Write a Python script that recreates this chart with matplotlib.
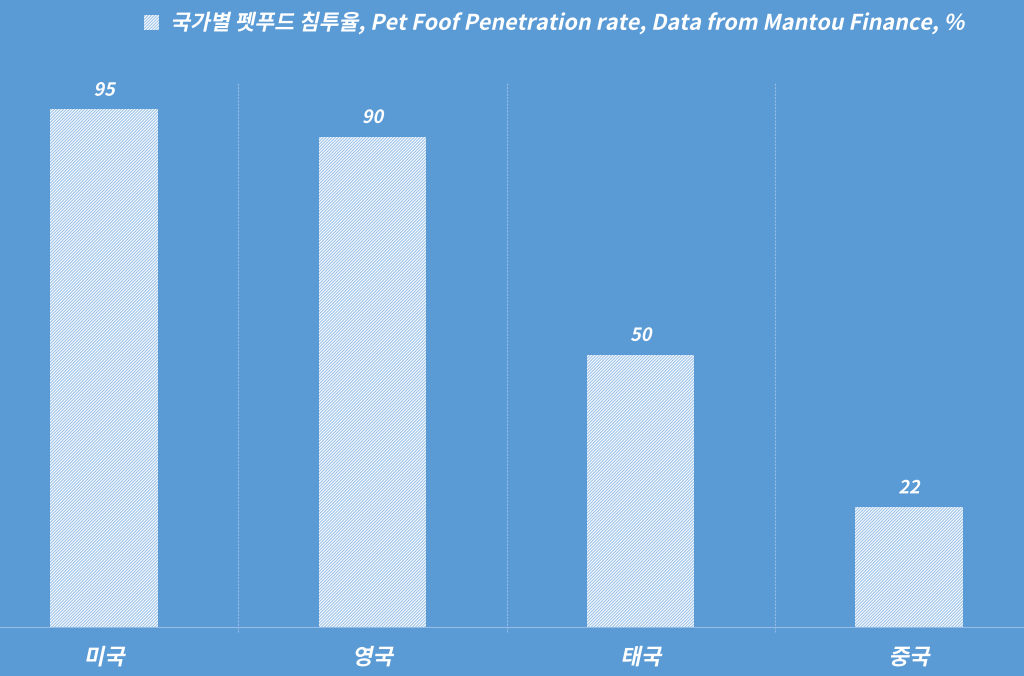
import matplotlib
matplotlib.use("Agg")
import matplotlib.pyplot as plt
from matplotlib import patheffects
from matplotlib.transforms import Affine2D

countries = ["미국", "영국", "태국", "중국"]
penetration = [95, 90, 50, 22]
series_name = "국가별 펫푸드 침투율, Pet Foof Penetration rate, Data from Mantou Finance, %"

BG = "#5B9BD5"
HATCH = "#9DC3EA"
GRID = "#93BCE6"

plt.rcParams["font.family"] = ["Noto Sans CJK KR", "DejaVu Sans"]
plt.rcParams["hatch.linewidth"] = 0.8
plt.rcParams["hatch.color"] = HATCH


class Slant(patheffects.AbstractPathEffect):
    # fake italic: shear the glyph paths
    def __init__(self, deg=12):
        super().__init__()
        self.deg = deg

    def draw_path(self, renderer, gc, tpath, affine, rgbFace=None):
        renderer.draw_path(gc, tpath, Affine2D().skew_deg(self.deg, 0) + affine, rgbFace)


slant = [Slant(12)]

fig = plt.figure(figsize=(10.24, 6.76), dpi=100, facecolor=BG)
ax = fig.add_axes([-0.0293, 0.0725, 1.048, 0.806])
ax.set_facecolor(BG)

x = range(len(countries))
bars = ax.bar(x, penetration, width=0.4, color="white", edgecolor=HATCH,
              linewidth=0, hatch="/" * 11, label=series_name)

ax.set_xlim(-0.5, len(countries) - 0.5)
ax.set_ylim(0, 100)
ax.set_yticks([])
ax.set_xticks(list(x))
ax.set_xticklabels(countries, fontsize=16, color="white", fontweight="bold")
ax.tick_params(axis="x", length=0, pad=14)
for t in ax.get_xticklabels():
    t.set_path_effects(slant)

for s in ["top", "right", "left"]:
    ax.spines[s].set_visible(False)
ax.spines["bottom"].set_color(GRID)
ax.spines["bottom"].set_linestyle((0, (2, 1)))
ax.spines["bottom"].set_linewidth(0.8)

# category separators
for b in [0.5, 1.5, 2.5]:
    ax.axvline(b, ymin=-0.01, ymax=1, color=GRID, lw=0.8, ls=(0, (2, 1)), clip_on=False)

labels = ax.bar_label(bars, padding=7, fontsize=13, color="white", fontweight="bold")
for t in labels:
    t.set_path_effects(slant)

leg = fig.legend(handles=[bars], loc="center", bbox_to_anchor=(0.542, 0.966),
                 frameon=False, fontsize=15.5, handlelength=0.7, handleheight=0.7,
                 handletextpad=0.5)
for t in leg.get_texts():
    t.set_color("white")
    t.set_fontweight("bold")
    t.set_path_effects(slant)

fig.savefig("out.png", dpi=100, facecolor=BG)
